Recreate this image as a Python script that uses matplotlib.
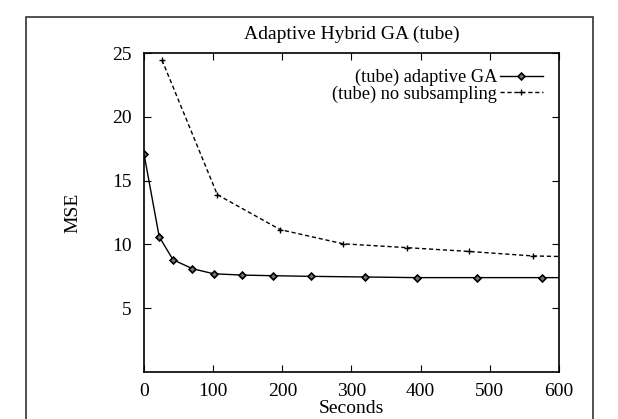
import matplotlib.pyplot as plt
from matplotlib.patches import Rectangle

# adaptive GA (solid, diamonds)
ga_sec = [0, 22, 42, 70, 101, 142, 187, 241, 320, 394, 481, 575, 660]
ga_mse = [17.1, 10.6, 8.8, 8.1, 7.7, 7.6, 7.55, 7.5, 7.45, 7.4, 7.4, 7.4, 7.4]

# no subsampling (dashed, plus)
ns_sec = [26, 106, 197, 288, 380, 470, 562, 650]
ns_mse = [24.45, 13.9, 11.16, 10.05, 9.75, 9.45, 9.1, 9.0]

x_ticks = [0, 100, 200, 300, 400, 500, 600]
y_ticks = [5, 10, 15, 20, 25]

plt.rcParams['font.family'] = ['Liberation Serif', 'DejaVu Serif']
plt.rcParams['font.size'] = 14

fig = plt.figure(figsize=(6.18, 4.19), dpi=100)
ax = fig.add_axes([0.233, 0.112, 0.6715, 0.7615])

# outer frame of the page
fig.patches.append(Rectangle((0.042, -0.1), 0.918, 1.059, transform=fig.transFigure,
                             fill=False, edgecolor='#333333', lw=1.2))

ax.plot(ga_sec, ga_mse, color='black', lw=1.0, marker='D', ms=3.5,
        mfc='#777777', mec='black', mew=1.2, label='(tube) adaptive GA')
ax.plot(ns_sec, ns_mse, color='black', lw=1.0, ls=(0, (3, 2)), marker='+', ms=5,
        mew=1.0, label='(tube) no subsampling')

ax.set_xlim(0, 600)
ax.set_ylim(0, 25)
ax.set_xticks(x_ticks)
ax.set_yticks(y_ticks)
ax.tick_params(axis='y', direction='in', length=5, width=0.8, right=True, pad=9)
ax.tick_params(axis='x', direction='in', length=5, width=0.8, top=True, pad=8)
for s in ax.spines.values():
    s.set_linewidth(1.2)

ax.set_title('Adaptive Hybrid GA (tube)', fontsize=14, pad=10)
ax.set_xlabel('Seconds', labelpad=0)
ax.set_ylabel('MSE', labelpad=22)

ax.legend(loc='upper right', bbox_to_anchor=(0.961, 0.95), frameon=False,
          markerfirst=False, handlelength=2.35, handletextpad=0.15,
          labelspacing=-0.05, borderpad=0, borderaxespad=0, fontsize=13.2)

fig.savefig('out.png', dpi=100)
